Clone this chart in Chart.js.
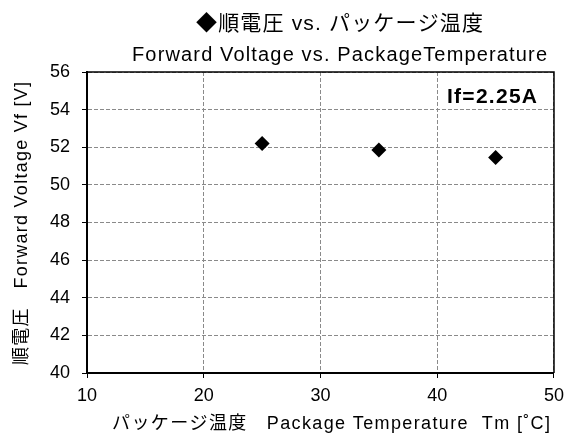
<!DOCTYPE html>
<html>
<head>
<meta charset="utf-8">
<script src="https://cdn.jsdelivr.net/npm/chart.js@4/dist/chart.umd.min.js"></script>
<style>
  html, body { margin: 0; padding: 0; background: #fff; }
  #wrap { width: 571px; height: 439px; }
</style>
</head>
<body>
<div id="wrap"><canvas id="c"></canvas></div>
<script>
"use strict";

// data
const temps = [25, 35, 45];
const vf = [52.2, 51.85, 51.45];
const titleJa = '◆順電圧 vs. パッケージ温度';
const titleEn = 'Forward Voltage vs. PackageTemperature';
const noteText = 'If=2.25A';
const xTitle = 'パッケージ温度   Package Temperature  Tm [˚C]';
const yTitle = '順電圧   Forward Voltage Vf [V]';

const FONT = '"Liberation Sans", Arial, "Noto Sans CJK JP", sans-serif';

// draw text stretched (by letter spacing) to a given width, centred on cx
function fitText(ctx, text, cx, cy, font, width, rot) {
  ctx.save();
  ctx.font = font;
  ctx.letterSpacing = '0px';
  const w0 = ctx.measureText(text).width;
  const n = [...text].length;
  const s = (width - w0) / (n - 1);
  ctx.letterSpacing = s + 'px';
  ctx.translate(cx, cy);
  if (rot) ctx.rotate(rot);
  ctx.textAlign = 'left';
  ctx.textBaseline = 'middle';
  ctx.fillStyle = '#000';
  ctx.fillText(text, -width / 2, 0);
  ctx.restore();
}

(() => {
  const canvas = document.getElementById('c');

  Chart.defaults.font.family = FONT;
  Chart.defaults.color = '#000';

  // titles, axis titles, the note and the top/right frame
  const extras = {
    id: 'extras',
    afterDraw(chart) {
      const ctx = chart.ctx;
      const a = chart.chartArea;
      ctx.save();
      ctx.strokeStyle = '#000';
      ctx.lineWidth = 1.5;
      ctx.beginPath();
      ctx.moveTo(a.left, a.top);
      ctx.lineTo(a.right, a.top);
      ctx.lineTo(a.right, a.bottom);
      ctx.stroke();
      ctx.restore();

      fitText(ctx, titleJa, 339.5, 24, '21px ' + FONT, 287);
      fitText(ctx, titleEn, 339.5, 55, '20px ' + FONT, 415);
      fitText(ctx, noteText, 492, 97.5, 'bold 21px ' + FONT, 90);
      fitText(ctx, xTitle, 331, 424, '18px ' + FONT, 438);
      fitText(ctx, yTitle, 22, 223.5, '18px ' + FONT, 283, -Math.PI / 2);
    }
  };

  const gridOpts = {
    color: '#8a8a8a',
    tickColor: '#000',
    tickBorderDash: [],
    tickLength: 5
  };

  new Chart(canvas, {
    type: 'scatter',
    data: {
      datasets: [{
        data: temps.map((t, i) => ({ x: t, y: vf[i] })),
        pointStyle: 'rectRot',
        pointRadius: 7.5,
        pointHoverRadius: 7.5,
        backgroundColor: '#000',
        borderColor: '#000',
        borderWidth: 0
      }]
    },
    options: {
      responsive: true,
      maintainAspectRatio: false,
      animation: false,
      layout: { padding: { top: 72, right: 14, left: 0, bottom: 0 } },
      plugins: {
        legend: { display: false },
        tooltip: { enabled: false }
      },
      scales: {
        x: {
          type: 'linear',
          min: 10,
          max: 50,
          ticks: { stepSize: 10, font: { size: 18 }, color: '#000', padding: 7 },
          grid: gridOpts,
          border: { color: '#000', width: 2, dash: [4, 2] },
          afterFit(scale) { scale.height = 66; }
        },
        y: {
          min: 40,
          max: 56,
          ticks: { stepSize: 2, font: { size: 18 }, color: '#000', padding: 12 },
          grid: gridOpts,
          border: { color: '#000', width: 2, dash: [4, 2] },
          afterFit(scale) { scale.width = 87; }
        }
      }
    },
    plugins: [extras]
  });
})();
</script>
</body>
</html>
